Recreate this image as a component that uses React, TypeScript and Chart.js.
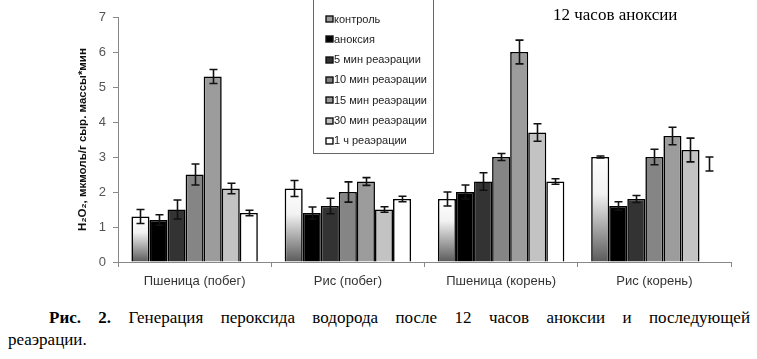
import React, { useEffect, useRef } from "react";
import { Chart, registerables } from "chart.js";

Chart.register(...registerables);

const categories = ["Пшеница (побег)", "Рис (побег)", "Пшеница (корень)", "Рис (корень)"];
const seriesNames = [
  "контроль",
  "аноксия",
  "5 мин реаэрации",
  "10 мин реаэрации",
  "15 мин реаэрации",
  "30 мин реаэрации",
  "1 ч реаэрации",
];
const control = [1.3, 2.1, 1.8, 3.0];
const anoxia = [1.2, 1.4, 2.0, 1.6];
const reaer5 = [1.5, 1.6, 2.3, 1.8];
const reaer10 = [2.5, 2.0, 3.0, 3.0];
const reaer15 = [5.3, 2.3, 6.0, 3.6];
const reaer30 = [2.1, 1.5, 3.7, 3.2];
const reaer60 = [1.4, 1.8, 2.3, 2.8];

const controlErr = [0.2, 0.23, 0.2, 0.03];
const anoxiaErr = [0.15, 0.17, 0.2, 0.12];
const reaer5Err = [0.27, 0.22, 0.25, 0.1];
const reaer10Err = [0.3, 0.29, 0.1, 0.22];
const reaer15Err = [0.2, 0.11, 0.34, 0.25];
const reaer30Err = [0.15, 0.08, 0.25, 0.34];
const reaer60Err = [0.08, 0.08, 0.08, 0.2];

const yMin = 0;
const yMax = 7;
const yStep = 1;

const yTitle = "H₂O₂, мкмоль/г сыр. массы*мин";
const chartTitle = "12 часов аноксии";
const captionBold = "Рис. 2.";
const captionLine1 = " Генерация пероксида водорода после 12 часов аноксии и последующей";
const captionLine2 = "реаэрации.";

const legendColors = ["#9a9a9a", "#000000", "#333333", "#808080", "#9a9a9a", "#c0c0c0", "#ffffff"];

const errorBarPlugin = {
  id: "errorBars",
  afterDatasetsDraw(chart: any) {
    const { ctx, scales } = chart;
    const y = scales.y;
    ctx.save();
    ctx.strokeStyle = "#111";
    ctx.lineWidth = 1.6;
    chart.data.datasets.forEach((ds: any, di: number) => {
      const meta = chart.getDatasetMeta(di);
      meta.data.forEach((el: any, i: number) => {
        const v = ds.data[i];
        const e = ds.errors ? ds.errors[i] : 0;
        if (!e && e !== 0) return;
        const x = Math.round(el.x) + 0.5;
        const yt = y.getPixelForValue(v + e);
        const yb = y.getPixelForValue(v - e);
        const cap = 4;
        ctx.beginPath();
        ctx.moveTo(x, yt);
        ctx.lineTo(x, yb);
        ctx.moveTo(x - cap, yt);
        ctx.lineTo(x + cap, yt);
        ctx.moveTo(x - cap, yb);
        ctx.lineTo(x + cap, yb);
        ctx.stroke();
      });
    });
    ctx.restore();
  },
};

const legendPlugin = {
  id: "boxLegend",
  afterDraw(chart: any) {
    const { ctx } = chart;
    ctx.save();
    ctx.strokeStyle = "#666";
    ctx.lineWidth = 1;
    ctx.strokeRect(313.5, -2.5, 120, 156);
    ctx.font = "11px 'Liberation Sans', Arial, sans-serif";
    ctx.textBaseline = "middle";
    ctx.textAlign = "left";
    chart.data.datasets.forEach((ds: any, i: number) => {
      const cy = 19 + i * 20.3;
      ctx.fillStyle = legendColors[i];
      ctx.fillRect(326, Math.round(cy) - 3, 7, 6);
      ctx.strokeStyle = "#111";
      ctx.lineWidth = 1.4;
      ctx.strokeRect(326, Math.round(cy) - 3, 7, 6);
      ctx.fillStyle = "#222";
      ctx.fillText(ds.label, 334, cy + 0.5);
    });
    ctx.restore();
  },
};

function gradientFill(c: any) {
  const chart = c.chart;
  const { ctx, chartArea, scales } = chart;
  if (!chartArea || !scales || !scales.y || typeof c.raw !== "number") return "#aaaaaa";
  const top = scales.y.getPixelForValue(c.raw);
  const bottom = scales.y.getPixelForValue(0);
  if (!isFinite(top) || !isFinite(bottom) || bottom - top < 1) return "#aaaaaa";
  const g = ctx.createLinearGradient(0, top, 0, bottom);
  g.addColorStop(0, "#ffffff");
  g.addColorStop(0.35, "#f2f2f2");
  g.addColorStop(1, "#5a5a5a");
  return g;
}

export default function App() {
  const ref = useRef<HTMLCanvasElement | null>(null);

  useEffect(() => {
    document.body.style.margin = "0";
    const canvas = ref.current;
    if (!canvas) return;
    const bw = 1.6;
    const chart = new Chart(canvas, {
      type: "bar",
      data: {
        labels: categories,
        datasets: [
          { label: seriesNames[0], data: control, errors: controlErr, backgroundColor: gradientFill, borderColor: "#000", borderWidth: bw } as any,
          { label: seriesNames[1], data: anoxia, errors: anoxiaErr, backgroundColor: "#000000", borderColor: "#000", borderWidth: bw } as any,
          { label: seriesNames[2], data: reaer5, errors: reaer5Err, backgroundColor: "#333333", borderColor: "#000", borderWidth: bw } as any,
          { label: seriesNames[3], data: reaer10, errors: reaer10Err, backgroundColor: "#858585", borderColor: "#000", borderWidth: bw } as any,
          { label: seriesNames[4], data: reaer15, errors: reaer15Err, backgroundColor: "#9c9c9c", borderColor: "#000", borderWidth: bw } as any,
          { label: seriesNames[5], data: reaer30, errors: reaer30Err, backgroundColor: "#c3c3c3", borderColor: "#000", borderWidth: bw } as any,
          { label: seriesNames[6], data: reaer60, errors: reaer60Err, backgroundColor: "#ffffff", borderColor: "#000", borderWidth: [bw, bw, bw, 0] } as any,
        ],
      },
      options: {
        responsive: false,
        animation: false,
        devicePixelRatio: 1,
        layout: { padding: { left: 0, right: 26, top: 17, bottom: 0 } },
        datasets: {
          bar: { categoryPercentage: 0.825, barPercentage: 1.0, borderSkipped: "start" },
        },
        plugins: {
          legend: { display: false },
          tooltip: { enabled: false },
          title: { display: false },
        },
        scales: {
          x: {
            grid: { display: true, drawOnChartArea: false, tickLength: 5, color: "#888", offset: true },
            border: { display: true, color: "#888", width: 1 },
            ticks: {
              color: "#333",
              padding: 7,
              font: { family: "'Liberation Sans', Arial, sans-serif", size: 13 },
              maxRotation: 0,
            },
            afterFit(scale: any) {
              scale.height = 33;
            },
          },
          y: {
            min: yMin,
            max: yMax,
            grid: { display: true, drawOnChartArea: false, tickLength: 5, color: "#888" },
            border: { display: true, color: "#888", width: 1 },
            ticks: {
              stepSize: yStep,
              color: "#555",
              padding: 7,
              font: { family: "'Liberation Sans', Arial, sans-serif", size: 13 },
            },
            title: {
              display: true,
              text: yTitle,
              color: "#111",
              font: { family: "'Liberation Sans', Arial, sans-serif", size: 11.5, weight: "bold" },
              padding: { top: 76, bottom: 0 },
            },
            afterFit(scale: any) {
              scale.width = 118;
            },
          },
        },
      } as any,
      plugins: [errorBarPlugin, legendPlugin],
    });
    return () => chart.destroy();
  }, []);

  return (
    <div style={{ position: "relative", width: 757, height: 359, background: "#fff", overflow: "hidden" }}>
      <canvas ref={ref} width={757} height={295} style={{ position: "absolute", left: 0, top: 0, width: 757, height: 295 }} />
      <div
        style={{
          position: "absolute",
          left: 553,
          top: 4,
          font: "17px 'Liberation Serif', 'Times New Roman', serif",
          color: "#000",
          whiteSpace: "nowrap",
          lineHeight: "22px",
        }}
      >
        {chartTitle}
      </div>
      <div
        style={{
          position: "absolute",
          left: 8,
          top: 307,
          width: 742,
          font: "17px 'Liberation Serif', 'Times New Roman', serif",
          lineHeight: "22px",
          color: "#000",
        }}
      >
        <div style={{ textAlign: "justify", textAlignLast: "justify", textIndent: 41 } as any}>
          <b>{captionBold}</b>
          {captionLine1}
        </div>
        <div>{captionLine2}</div>
      </div>
    </div>
  );
}
